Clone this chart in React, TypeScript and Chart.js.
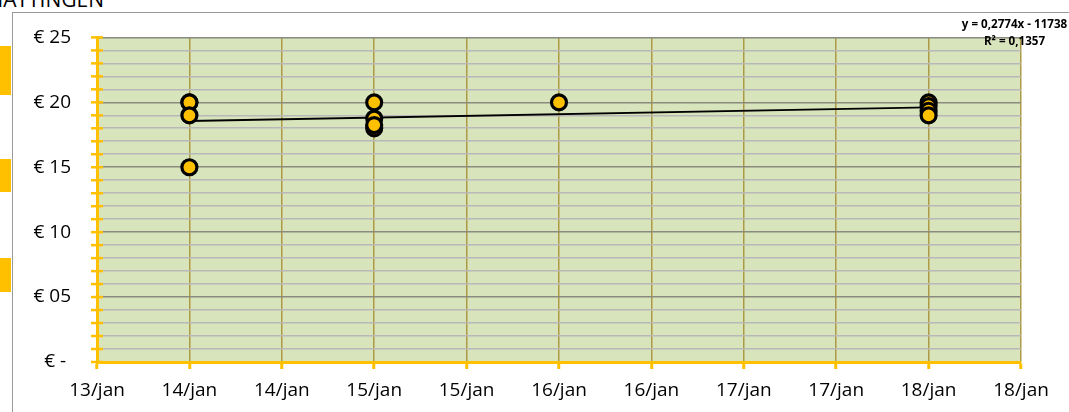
import React, { useEffect, useRef } from 'react';
import { Chart, registerables } from 'chart.js';

Chart.register(...registerables);

// ---- data ----
const pointDays: number[] = [14, 14, 14, 14, 15, 15, 15, 15, 16, 18, 18, 18, 18];
const pointPrices: number[] = [20, 20, 19, 15, 18.75, 18, 20, 18.25, 20, 20, 19.7, 19.35, 19];
const monthName = 'jan';
const xMin = 13.5;
const xMax = 18.5;
const xStep = 0.5;
const yMin = 0;
const yMax = 25;
const yStep = 1;
const yLabelEvery = 5;
const titleText = 'SCHATTINGEN';
const trendEquation = 'y = 0,2774x - 11738';
const trendR2 = 'R² = 0,1357';

// ---- styles ----
const FONT = "'Open Sans', sans-serif";
const GOLD = '#FFC000';
const PLOT_BG = '#D8E4BC';

function linearFit(xs: number[], ys: number[]) {
  const n = xs.length;
  const mx = xs.reduce((a, b) => a + b, 0) / n;
  const my = ys.reduce((a, b) => a + b, 0) / n;
  let sxy = 0;
  let sxx = 0;
  for (let i = 0; i < n; i++) {
    sxy += (xs[i] - mx) * (ys[i] - my);
    sxx += (xs[i] - mx) * (xs[i] - mx);
  }
  const slope = sxy / sxx;
  return { slope, intercept: my - slope * mx };
}

const plotBg = {
  id: 'plotBg',
  beforeDraw(chart: any) {
    const { ctx, chartArea } = chart;
    ctx.save();
    ctx.fillStyle = PLOT_BG;
    ctx.fillRect(chartArea.left, chartArea.top, chartArea.right - chartArea.left, chartArea.bottom - chartArea.top);
    ctx.restore();
  },
};

const yCrossTicks = {
  id: 'yCrossTicks',
  beforeDatasetsDraw(chart: any) {
    const { ctx, chartArea } = chart;
    const ys = chart.scales.y;
    ctx.save();
    ctx.strokeStyle = GOLD;
    ctx.lineWidth = 2.5;
    ys.ticks.forEach((t: any) => {
      const py = ys.getPixelForValue(t.value);
      ctx.beginPath();
      ctx.moveTo(chartArea.left - 6, py);
      ctx.lineTo(chartArea.left + 6, py);
      ctx.stroke();
    });
    ctx.restore();
  },
};

export default function App() {
  const canvasRef = useRef<HTMLCanvasElement | null>(null);

  useEffect(() => {
    if (!canvasRef.current) return;
    const fit = linearFit(pointDays, pointPrices);
    const dMin = Math.min(...pointDays);
    const dMax = Math.max(...pointDays);
    const trendData = [
      { x: dMin, y: fit.intercept + fit.slope * dMin },
      { x: dMax, y: fit.intercept + fit.slope * dMax },
    ];
    const points = pointDays.map((d, i) => ({ x: d, y: pointPrices[i] }));

    const chart = new Chart(canvasRef.current, {
      type: 'scatter',
      data: {
        datasets: [
          {
            label: 'prijs',
            data: points,
            pointRadius: 7.5,
            pointHoverRadius: 7.5,
            pointBorderWidth: 3.2,
            pointBackgroundColor: GOLD,
            pointBorderColor: '#000000',
            showLine: false,
          } as any,
          {
            type: 'line',
            label: 'trend',
            data: trendData,
            borderColor: '#000000',
            borderWidth: 1.8,
            pointRadius: 0,
            fill: false,
            tension: 0,
          } as any,
        ],
      },
      options: {
        animation: false,
        responsive: false,
        events: [],
        layout: { padding: { left: 0, right: 48, top: 37, bottom: 0 } },
        plugins: {
          legend: { display: false },
          tooltip: { enabled: false },
          title: { display: false },
        },
        scales: {
          x: {
            type: 'linear',
            min: xMin,
            max: xMax,
            afterFit: (s: any) => {
              s.height = 50;
            },
            afterBuildTicks: (s: any) => {
              const t = [];
              for (let v = xMin; v <= xMax + 1e-9; v += xStep) t.push({ value: v });
              s.ticks = t;
            },
            ticks: {
              autoSkip: false,
              maxRotation: 0,
              minRotation: 0,
              padding: 10,
              color: '#000000',
              font: { family: FONT, size: 19 },
              callback: (v: any) => `${Math.floor(Number(v) + 1e-9)}/${monthName}`,
            },
            grid: {
              color: (c: any) => (c.tick && c.tick.value <= xMin + 1e-9 ? 'rgba(0,0,0,0)' : '#AC9A45'),
              lineWidth: 1.5,
              drawTicks: true,
              tickLength: 7,
              tickWidth: 3,
              tickColor: GOLD,
            },
            border: { display: true, color: GOLD, width: 3 },
          },
          y: {
            type: 'linear',
            min: yMin,
            max: yMax,
            afterFit: (s: any) => {
              s.width = 97;
            },
            ticks: {
              stepSize: yStep,
              autoSkip: false,
              padding: 26,
              color: '#000000',
              font: { family: FONT, size: 19 },
              callback: (v: any) => {
                const n = Number(v);
                if (n % yLabelEvery !== 0) return '';
                if (n === 0) return '€ - ';
                return '€ ' + String(n).padStart(2, '0');
              },
            },
            grid: {
              color: (c: any) => {
                const v = c.tick ? c.tick.value : 1;
                if (v <= yMin) return 'rgba(0,0,0,0)';
                return v % yLabelEvery === 0 ? '#8A8A7E' : '#B8B8B8';
              },
              lineWidth: 1.6,
              drawTicks: false,
            },
            border: { display: true, color: GOLD, width: 3 },
          },
        },
      },
      plugins: [plotBg, yCrossTicks],
    } as any);

    return () => chart.destroy();
  }, []);

  return (
    <div
      style={{
        position: 'fixed',
        left: 0,
        top: 0,
        width: 1069,
        height: 412,
        overflow: 'hidden',
        background: '#ffffff',
        fontFamily: FONT,
      }}
    >
      {/* chart frame lines */}
      <div style={{ position: 'absolute', left: 12, top: 12, width: 1, height: 400, background: '#9A9A9A' }} />
      <div style={{ position: 'absolute', left: 12, top: 12, width: 1057, height: 1, background: '#9A9A9A' }} />
      {/* yellow shapes at left edge */}
      <div style={{ position: 'absolute', left: 0, top: 46, width: 11, height: 49, background: GOLD }} />
      <div style={{ position: 'absolute', left: 0, top: 159, width: 11, height: 33, background: GOLD }} />
      <div style={{ position: 'absolute', left: 0, top: 258, width: 11, height: 34, background: GOLD }} />
      {/* cut-off title */}
      <div
        style={{
          position: 'absolute',
          right: 1069 - 104,
          top: -11,
          fontSize: 21,
          lineHeight: '21px',
          color: '#000',
          whiteSpace: 'nowrap',
        }}
      >
        {titleText}
      </div>
      <canvas ref={canvasRef} width={1069} height={412} style={{ position: 'absolute', left: 0, top: 0 }} />
      {/* trendline label */}
      <div
        style={{
          position: 'absolute',
          left: 950,
          top: 14.5,
          width: 129,
          textAlign: 'center',
          fontSize: 11.6,
          lineHeight: '17px',
          fontWeight: 700,
          color: '#000',
          whiteSpace: 'nowrap',
        }}
      >
        <div>{trendEquation}</div>
        <div>{trendR2}</div>
      </div>
    </div>
  );
}
